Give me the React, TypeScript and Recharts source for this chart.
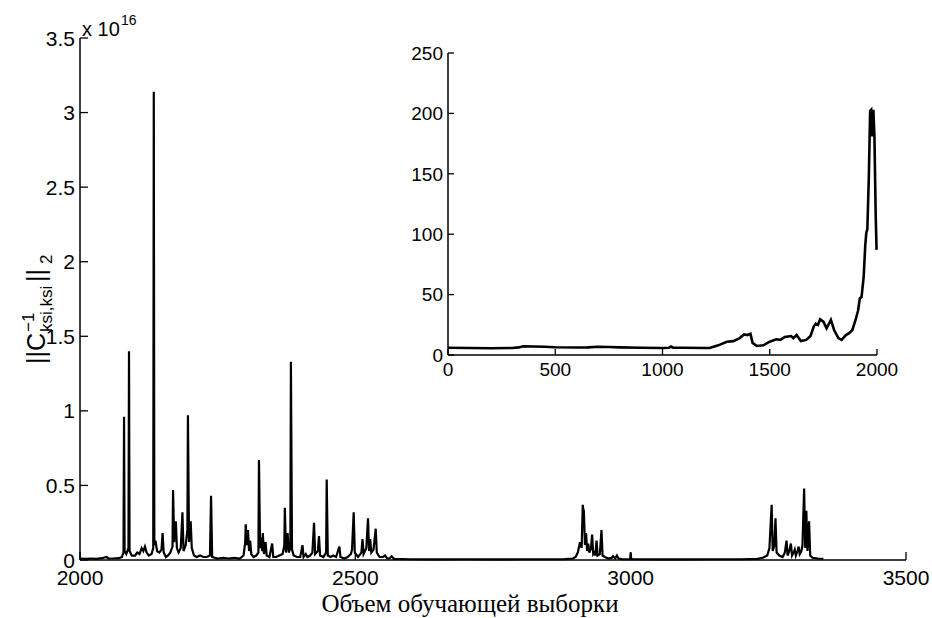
import React from "react";
import { LineChart, Line, XAxis, YAxis } from "recharts";

// main series: training sample size vs ||C^-1||_2 (units of 1e16)
const mainX = [
  2000, 2010, 2020, 2030, 2040, 2048, 2052, 2060, 2070, 2076, 2079, 2080, 2081, 2084, 2088, 2089, 2090, 2094,
  2100, 2104, 2108, 2112, 2115, 2118, 2121, 2125, 2130, 2133, 2134, 2135, 2137, 2140, 2144, 2148, 2150, 2152,
  2156, 2160, 2164, 2168, 2169, 2171, 2173, 2174, 2176, 2179, 2183, 2186, 2188, 2192, 2195, 2196, 2198, 2201,
  2203, 2207, 2212, 2218, 2224, 2230, 2236, 2238, 2240, 2250, 2260, 2270, 2280, 2290, 2297, 2300, 2301, 2303,
  2305, 2307, 2309, 2311, 2315, 2320, 2324, 2325, 2327, 2329, 2331, 2332, 2334, 2337, 2339, 2344, 2349, 2351,
  2356, 2362, 2368, 2371, 2372, 2374, 2377, 2379, 2382, 2383, 2385, 2388, 2394, 2400, 2404, 2406, 2410, 2413,
  2418, 2422, 2425, 2427, 2432, 2434, 2436, 2442, 2447, 2448, 2450, 2455, 2460, 2465, 2471, 2473, 2480, 2486,
  2492, 2494, 2497, 2499, 2505, 2511, 2513, 2515, 2520, 2523, 2525, 2527, 2529, 2533, 2537, 2539, 2544, 2550,
  2554, 2558, 2562, 2566, 2570, 2600, 2650, 2700, 2750, 2800, 2850, 2880, 2895, 2900, 2904, 2908, 2911, 2913,
  2914, 2915, 2917, 2919, 2921, 2923, 2925, 2928, 2930, 2932, 2934, 2936, 2938, 2940, 2944, 2947, 2949, 2953,
  2960, 2966, 2968, 2972, 2975, 2978, 2985, 2999, 3000, 3001, 3050, 3100, 3150, 3200, 3230, 3240, 3248, 3252,
  3256, 3258, 3261, 3263, 3265, 3270, 3276, 3280, 3283, 3285, 3288, 3291, 3293, 3296, 3298, 3300, 3303, 3305,
  3307, 3310, 3312, 3315, 3317, 3319, 3321, 3324, 3326, 3330, 3340, 3350,
];
const mainY = [
  0.01, 0.008, 0.01, 0.008, 0.012, 0.02, 0.01, 0.01, 0.012, 0.02, 0.05, 0.96, 0.06, 0.04, 0.08, 1.4, 0.06, 0.03,
  0.03, 0.05, 0.04, 0.08, 0.06, 0.09, 0.05, 0.03, 0.04, 0.08, 3.14, 0.1, 0.13, 0.06, 0.05, 0.07, 0.18, 0.05,
  0.02, 0.03, 0.05, 0.09, 0.47, 0.12, 0.2, 0.26, 0.08, 0.05, 0.08, 0.32, 0.06, 0.1, 0.2, 0.97, 0.12, 0.26,
  0.08, 0.03, 0.02, 0.03, 0.02, 0.02, 0.03, 0.43, 0.02, 0.01, 0.015, 0.01, 0.015, 0.01, 0.03, 0.12, 0.24, 0.1,
  0.2, 0.06, 0.13, 0.04, 0.02, 0.03, 0.05, 0.67, 0.08, 0.15, 0.06, 0.18, 0.04, 0.12, 0.03, 0.02, 0.11, 0.02,
  0.02, 0.03, 0.04, 0.1, 0.35, 0.05, 0.18, 0.05, 0.08, 1.33, 0.07, 0.03, 0.02, 0.02, 0.1, 0.02, 0.04, 0.02,
  0.03, 0.05, 0.25, 0.04, 0.06, 0.16, 0.03, 0.02, 0.05, 0.54, 0.03, 0.02, 0.03, 0.02, 0.09, 0.02, 0.01, 0.02,
  0.04, 0.07, 0.32, 0.05, 0.02, 0.05, 0.14, 0.04, 0.08, 0.28, 0.06, 0.14, 0.05, 0.07, 0.21, 0.05, 0.02, 0.02,
  0.03, 0.01, 0.01, 0.025, 0.008, 0.005, 0.004, 0.005, 0.004, 0.005, 0.005, 0.006, 0.01, 0.02, 0.05, 0.12, 0.08, 0.37,
  0.34, 0.33, 0.1, 0.18, 0.06, 0.11, 0.05, 0.08, 0.17, 0.04, 0.05, 0.03, 0.13, 0.03, 0.04, 0.2, 0.03, 0.02,
  0.01, 0.015, 0.025, 0.01, 0.03, 0.01, 0.005, 0.005, 0.05, 0.005, 0.004, 0.004, 0.005, 0.005, 0.008, 0.015, 0.03, 0.08,
  0.37, 0.06, 0.1, 0.28, 0.05, 0.03, 0.02, 0.05, 0.13, 0.03, 0.06, 0.11, 0.03, 0.05, 0.07, 0.03, 0.06, 0.09,
  0.04, 0.06, 0.1, 0.48, 0.08, 0.33, 0.06, 0.26, 0.03, 0.015, 0.01, 0.008,
];

// inset series: first 2000 samples
const insetX = [
  0, 100, 200, 300, 330, 350, 400, 450, 500, 600, 650, 700, 750, 800, 900, 1000, 1030, 1040, 1050, 1100, 1200,
  1220, 1260, 1300, 1330, 1360, 1380, 1395, 1410, 1420, 1440, 1470, 1500, 1530, 1550, 1570, 1600, 1610, 1625,
  1645, 1670, 1690, 1705, 1715, 1725, 1735, 1750, 1765, 1785, 1800, 1820, 1835, 1855, 1870, 1885, 1900, 1912,
  1920, 1928, 1938, 1945, 1950, 1955, 1962, 1968, 1973, 1978, 1983, 1988, 1994, 1998,
];
const insetY = [
  6, 5.8, 5.6, 5.8, 6.3, 7.2, 7, 6.8, 6.4, 6.2, 6.3, 6.8, 6.6, 6.3, 6, 5.8, 6, 7, 6, 6, 5.8,
  5.8, 8, 11, 11.5, 14, 17, 16.5, 17.5, 10, 7.5, 8, 11, 13, 12.5, 15, 15.7, 14, 16.5,
  11.5, 12.5, 15.7, 23.5, 26, 25, 29.5, 27.6, 22, 29, 20.7, 14, 12.5, 16.5, 18, 20.7, 29, 37,
  47, 48, 65, 90, 101, 104, 148, 202, 203, 181, 203, 181, 115, 87,
];

const mainXTicks = [2000, 2500, 3000, 3500];
const mainYTicks = [0, 0.5, 1, 1.5, 2, 2.5, 3, 3.5];
const insetXTicks = [0, 500, 1000, 1500, 2000];
const insetYTicks = [0, 50, 100, 150, 200, 250];

const mainData = mainX.map((x, i) => ({ x, y: mainY[i] }));
const insetData = insetX.map((x, i) => ({ x, y: insetY[i] }));

const SANS = "'Liberation Sans', Arial, Helvetica, sans-serif";

// ticks drawn inward like matlab
const LeftTick = (p: any) => (
  <g>
    <line x1={p.x + p.gap} x2={p.x + p.gap + p.len} y1={p.y} y2={p.y} stroke="#000" strokeWidth={1.3} />
    <text x={p.x} y={p.y} dy="0.36em" textAnchor="end" fontSize={p.fs} fontFamily={SANS} fill="#000">
      {p.payload.value}
    </text>
  </g>
);

const BottomTick = (p: any) => (
  <g>
    <line x1={p.x} x2={p.x} y1={p.y - p.gap} y2={p.y - p.gap - p.len} stroke="#000" strokeWidth={1.3} />
    <text x={p.x} y={p.y} dy="0.72em" textAnchor="middle" fontSize={p.fs} fontFamily={SANS} fill="#000">
      {p.payload.value}
    </text>
  </g>
);

export default function App() {
  return (
    <div style={{ position: "absolute", left: 0, top: 0, width: 932, height: 618, background: "#fff" }}>
      <LineChart width={932} height={618} data={mainData} margin={{ top: 38, right: 26, bottom: 28, left: 20 }}>
        <XAxis
          dataKey="x"
          type="number"
          domain={[2000, 3500]}
          ticks={mainXTicks}
          height={30}
          tickSize={0}
          tickMargin={10}
          tickLine={false}
          axisLine={{ stroke: "#000", strokeWidth: 1.5 }}
          tick={(p: any) => <BottomTick {...p} gap={10} len={8} fs={21} />}
        />
        <YAxis
          dataKey="y"
          type="number"
          domain={[0, 3.5]}
          ticks={mainYTicks}
          width={60}
          tickSize={0}
          tickMargin={5}
          tickLine={false}
          axisLine={{ stroke: "#000", strokeWidth: 1.5 }}
          tick={(p: any) => <LeftTick {...p} gap={5} len={8} fs={21} />}
        />
        <Line type="linear" dataKey="y" stroke="#000" strokeWidth={2.2} dot={false} isAnimationActive={false} />
      </LineChart>

      <div style={{ position: "absolute", left: 380, top: 40 }}>
        <LineChart width={530} height={350} data={insetData} margin={{ top: 13, right: 33, bottom: 5, left: 18 }}>
          <XAxis
            dataKey="x"
            type="number"
            domain={[0, 2000]}
            ticks={insetXTicks}
            height={30}
            tickSize={0}
            tickMargin={7}
            tickLine={false}
            axisLine={{ stroke: "#000", strokeWidth: 1.5 }}
            tick={(p: any) => <BottomTick {...p} gap={7} len={6} fs={19} />}
          />
          <YAxis
            dataKey="y"
            type="number"
            domain={[0, 250]}
            ticks={insetYTicks}
            width={50}
            tickSize={0}
            tickMargin={5}
            tickLine={false}
            axisLine={{ stroke: "#000", strokeWidth: 1.5 }}
            tick={(p: any) => <LeftTick {...p} gap={5} len={6} fs={19} />}
          />
          <Line type="linear" dataKey="y" stroke="#000" strokeWidth={2.6} dot={false} isAnimationActive={false} />
        </LineChart>
      </div>

      <svg width={932} height={618} style={{ position: "absolute", left: 0, top: 0, pointerEvents: "none" }}>
        <text x={82} y={36} fontSize={20} fontFamily={SANS} fill="#000">
          x 10
        </text>
        <text x={121} y={25} fontSize={14} fontFamily={SANS} fill="#000">
          16
        </text>
        <g transform="translate(45, 364) rotate(-90)" fontFamily={SANS} fill="#000">
          <text x={0} y={0} fontSize={25}>||C</text>
          <text x={32} y={-11} fontSize={17}>−1</text>
          <text x={32} y={7} fontSize={17}>ksi,ksi</text>
          <text x={82} y={0} fontSize={25}>||</text>
          <text x={100} y={7} fontSize={17}>2</text>
        </g>
        <text
          x={470}
          y={612}
          textAnchor="middle"
          fontSize={25}
          fontFamily="'Liberation Serif', 'Times New Roman', serif"
          fill="#000"
        >
          Объем обучающей выборки
        </text>
      </svg>
    </div>
  );
}
